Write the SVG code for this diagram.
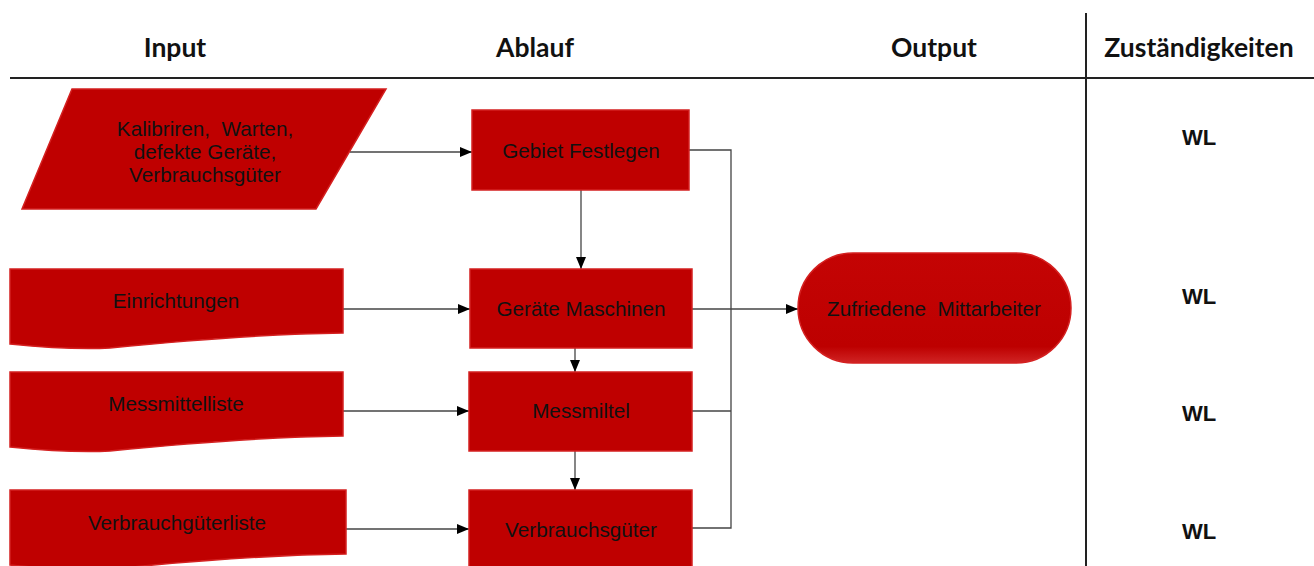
<svg xmlns="http://www.w3.org/2000/svg" width="1314" height="566" viewBox="0 0 1314 566">
  <defs>
    <style>
      .hdr { font-family: Lato, "Liberation Sans", sans-serif; font-weight: 700; font-size: 26.5px; fill: #111; text-anchor: middle; }
      .lbl { font-family: "Liberation Sans", Arial, sans-serif; font-size: 20.7px; fill: #111; text-anchor: middle; white-space: pre; }
      .resp { font-family: "Liberation Sans", Arial, sans-serif; font-weight: 700; font-size: 22px; fill: #111; text-anchor: middle; }
      .shape { fill: #BF0000; stroke: #D42020; stroke-width: 1.5; }
      .rule { stroke: #222; stroke-width: 2; fill: none; }
      .conn { stroke: #444; stroke-width: 1.3; fill: none; }
    </style>
    <marker id="arrow" markerWidth="12" markerHeight="10" refX="12" refY="5" orient="auto" markerUnits="userSpaceOnUse">
      <path d="M0,0 L12,5 L0,10 Z" fill="#000"/>
    </marker>
    <linearGradient id="gloss" x1="0" y1="0" x2="0" y2="1">
      <stop offset="0" stop-color="#C40404"/>
      <stop offset="0.85" stop-color="#BD0000"/>
      <stop offset="1" stop-color="#D02424"/>
    </linearGradient>
  </defs>

  <rect width="1314" height="566" fill="#fff"/>

  <!-- table frame -->
  <g id="frame">
    <line class="rule" x1="10" y1="78" x2="1314" y2="78"/>
    <line class="rule" x1="1086" y1="13" x2="1086" y2="566"/>
    <text class="hdr" x="175" y="57">Input</text>
    <text class="hdr" x="535" y="57">Ablauf</text>
    <text class="hdr" x="934" y="57">Output</text>
    <text class="hdr" x="1199" y="57">Zuständigkeiten</text>
  </g>

  <!-- connectors -->
  <g id="connectors">
    <line class="conn" x1="350" y1="152" x2="472" y2="152" marker-end="url(#arrow)"/>
    <line class="conn" x1="581" y1="190" x2="581" y2="269" marker-end="url(#arrow)"/>
    <line class="conn" x1="343" y1="309" x2="470" y2="309" marker-end="url(#arrow)"/>
    <line class="conn" x1="575" y1="348" x2="575" y2="372" marker-end="url(#arrow)"/>
    <line class="conn" x1="343" y1="411" x2="469" y2="411" marker-end="url(#arrow)"/>
    <line class="conn" x1="575" y1="451" x2="575" y2="490" marker-end="url(#arrow)"/>
    <line class="conn" x1="346" y1="529" x2="469" y2="529" marker-end="url(#arrow)"/>
    <polyline class="conn" points="689,150 731,150 731,528 692,528"/>
    <line class="conn" x1="692" y1="411" x2="731" y2="411"/>
    <line class="conn" x1="692" y1="309" x2="798" y2="309" marker-end="url(#arrow)"/>
  </g>

  <!-- input column -->
  <g id="n-kalibrieren">
    <polygon class="shape" points="72,89 386,89 316,209 22,209"/>
    <text class="lbl" x="205" y="136">Kalibriren,  Warten,</text>
    <text class="lbl" x="205" y="159">defekte Geräte,</text>
    <text class="lbl" x="205" y="182">Verbrauchsgüter</text>
  </g>
  <g id="n-einrichtungen">
    <path class="shape" d="M10,269 H343 V333 C260,334 170,342 110,348 C70,350 30,346 10,344 Z"/>
    <text class="lbl" x="176" y="308">Einrichtungen</text>
  </g>
  <g id="n-messmittelliste">
    <path class="shape" d="M10,372 H343 V436 C260,437 170,445 110,451 C70,453 30,449 10,447 Z"/>
    <text class="lbl" x="176" y="411">Messmittelliste</text>
  </g>
  <g id="n-verbrauchgueterliste">
    <path class="shape" d="M10,490 H346 V554 C262,555 172,563 112,569 C72,571 30,567 10,565 Z"/>
    <text class="lbl" x="177" y="530">Verbrauchgüterliste</text>
  </g>

  <!-- process column -->
  <g id="n-gebiet">
    <rect class="shape" x="472" y="110" width="217" height="80"/>
    <text class="lbl" x="581" y="158">Gebiet Festlegen</text>
  </g>
  <g id="n-geraete">
    <rect class="shape" x="470" y="269" width="222" height="79"/>
    <text class="lbl" x="581" y="316">Geräte Maschinen</text>
  </g>
  <g id="n-messmittel">
    <rect class="shape" x="469" y="372" width="223" height="79"/>
    <text class="lbl" x="581" y="418">Messmiltel</text>
  </g>
  <g id="n-verbrauchsgueter">
    <rect class="shape" x="469" y="490" width="223" height="90"/>
    <text class="lbl" x="581" y="537">Verbrauchsgüter</text>
  </g>

  <!-- output column -->
  <g id="n-zufrieden">
    <rect x="798" y="253" width="273" height="110" rx="55" ry="55" fill="url(#gloss)" stroke="#D42020" stroke-width="1.5"/>
    <text class="lbl" x="934" y="316">Zufriedene  Mittarbeiter</text>
  </g>

  <!-- responsibilities column -->
  <g id="responsibilities">
    <text class="resp" x="1199" y="145">WL</text>
    <text class="resp" x="1199" y="304">WL</text>
    <text class="resp" x="1199" y="421">WL</text>
    <text class="resp" x="1199" y="539">WL</text>
  </g>
</svg>
